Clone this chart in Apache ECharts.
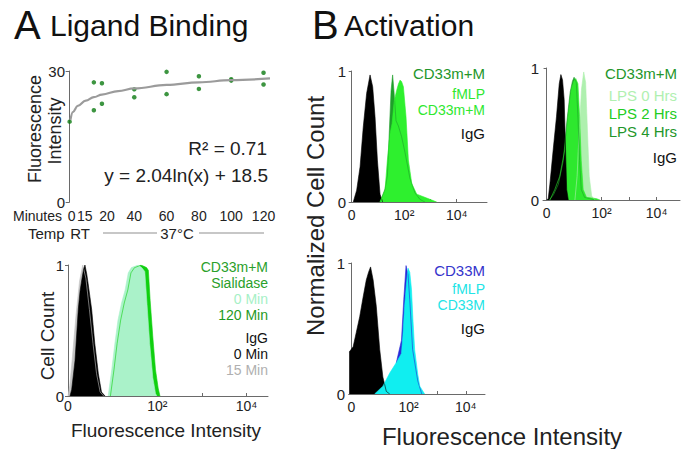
<!DOCTYPE html>
<html><head><meta charset="utf-8">
<script src="https://cdn.jsdelivr.net/npm/echarts@6/dist/echarts.min.js"></script>
<style>html,body{margin:0;padding:0;background:#fff}#c{width:690px;height:449px}</style>
</head><body><div id="c"></div>
<script>
// ---------- DATA ----------
// Panel A top: ligand binding time course
const scatterMinutes   = [0, 15, 15, 20, 20, 40, 40, 60, 60, 80, 80, 100, 100, 120, 120];
const scatterIntensity = [18.4, 27.4, 21.0, 27.2, 22.5, 25.8, 24.0, 29.8, 24.7, 28.8, 25.9, 28.1, 27.8, 29.6, 26.9];
const fitMinutes = [0.5, 2, 5, 10, 15, 20, 30, 40, 60, 80, 100, 124];
const fitValues  = [18.8, 20.6, 22.0, 23.2, 24.0, 24.6, 25.4, 26.0, 26.8, 27.4, 27.9, 28.3];
const minuteLabels = ['0', '15', '20', '40', '60', '80', '100', '120'];
const minuteTicks  = [0, 15, 20, 40, 60, 80, 100, 120];
// histogram x axis (decades); tick labels
const decadeTicks = [0, 1, 2, 3, 4];
const decadeLabels = {0: '0', 2: '10²', 4: '10⁴'};

// Panel A bottom: sialidase (x in decades, y normalized count)
const aIgG15 = [[0.0,0],[0.04,0.08],[0.1,0.3],[0.18,0.62],[0.26,0.88],[0.33,1.0],[0.4,0.9],[0.48,0.66],[0.56,0.4],[0.64,0.17],[0.72,0.03],[0.8,0]];
const aIgG0  = [[0.045,0],[0.083,0.05],[0.157,0.27],[0.23,0.66],[0.27,0.8],[0.31,0.89],[0.35,0.97],[0.38,1.0],[0.42,0.93],[0.45,0.86],[0.49,0.76],[0.53,0.66],[0.6,0.4],[0.68,0.17],[0.75,0.03],[0.83,0]];
const aSia120 = [[0.95,0],[1.03,0.2],[1.1,0.4],[1.18,0.58],[1.26,0.71],[1.34,0.81],[1.41,0.94],[1.49,0.98],[1.57,0.99],[1.63,1.0],[1.7,0.99],[1.76,0.98],[1.8,0.96],[1.84,0.73],[1.9,0.45],[1.96,0.2],[2.02,0.06],[2.06,0]];
const aSia0   = [[0.9,0],[0.98,0.2],[1.05,0.4],[1.12,0.58],[1.2,0.71],[1.28,0.81],[1.35,0.94],[1.42,0.98],[1.5,0.99],[1.57,1.0],[1.65,0.98],[1.72,0.95],[1.77,0.7],[1.83,0.4],[1.9,0.14],[1.96,0.02],[1.99,0]];

// Panel B1: fMLP
const b1IgG   = [[0.06,0],[0.19,0.09],[0.32,0.27],[0.44,0.57],[0.57,0.83],[0.7,0.97],[0.8,0.88],[0.89,0.65],[0.98,0.32],[1.08,0.06],[1.18,0]];
const b1CD33  = [[1.08,0],[1.27,0.1],[1.36,0.2],[1.43,0.52],[1.5,0.85],[1.56,0.97],[1.61,0.85],[1.69,0.62],[1.78,0.58],[1.9,0.5],[2.03,0.38],[2.22,0.18],[2.41,0.07],[2.6,0.02],[2.79,0]];
const b1fMLP  = [[1.08,0],[1.27,0.09],[1.36,0.32],[1.46,0.52],[1.54,0.6],[1.62,0.77],[1.71,0.85],[1.78,0.9],[1.84,0.93],[1.9,0.92],[1.97,0.88],[2.07,0.65],[2.16,0.32],[2.29,0.14],[2.48,0.06],[2.86,0.03],[3.24,0]];

// Panel B2: LPS
const b2LPS0 = [[1.03,0],[1.11,0.18],[1.18,0.5],[1.27,0.84],[1.35,0.97],[1.42,0.89],[1.49,0.5],[1.55,0.18],[1.64,0.03],[1.76,0]];
const b2LPS4 = [[0.1,0],[0.25,0.04],[0.43,0.12],[0.61,0.3],[0.74,0.6],[0.86,0.82],[0.94,0.9],[1.0,0.93],[1.08,0.89],[1.14,0.63],[1.2,0.3],[1.26,0.08],[1.38,0.02],[1.76,0]];
const b2LPS2 = [[0.12,0],[0.3,0.08],[0.48,0.18],[0.66,0.38],[0.78,0.63],[0.9,0.84],[0.99,0.9],[1.06,0.92],[1.14,0.88],[1.2,0.63],[1.26,0.3],[1.33,0.08],[1.45,0.02],[1.82,0.01],[1.94,0]];
const b2IgG  = [[0.0,0],[0.06,0.01],[0.12,0.12],[0.24,0.38],[0.36,0.63],[0.46,0.88],[0.52,0.95],[0.58,0.91],[0.64,0.76],[0.69,0.38],[0.73,0.08],[0.79,0]];

// Panel B3: CD33M
const b3IgG  = [[-0.077,0.32],[0.06,0.36],[0.17,0.47],[0.29,0.59],[0.41,0.74],[0.52,0.87],[0.6,0.93],[0.67,0.97],[0.76,0.87],[0.87,0.67],[0.99,0.34],[1.1,0.13],[1.22,0.02],[1.34,0]];
const b3CD33 = [[1.57,0.24],[1.75,0.41],[1.83,0.72],[1.91,0.98],[1.98,0.91],[2.04,0.72],[2.14,0.34],[2.32,0.1],[2.46,0]];
const b3fMLP = [[0.81,0],[1.1,0.06],[1.34,0.16],[1.57,0.24],[1.75,0.31],[1.8,0.45],[1.86,0.67],[1.92,0.83],[1.98,0.96],[2.04,0.93],[2.1,0.8],[2.15,0.57],[2.21,0.34],[2.32,0.15],[2.39,0.06],[2.56,0]];

// ---------- CHART ----------
const FONT = '"Liberation Sans", Arial, Helvetica, sans-serif';
const axisCol = '#6a6a6a';
const chart = echarts.init(document.getElementById('c'), null, {renderer: 'svg'});

const grids = [
  {left: 68, top: 71, width: 202, height: 131},
  {left: 68, top: 265, width: 200, height: 131},
  {left: 350, top: 71, width: 137, height: 131},
  {left: 543, top: 68, width: 137, height: 132},
  {left: 349, top: 263, width: 136, height: 131}
];

function histX(i, min, max, margin) {
  return {
    type: 'value', gridIndex: i, min: min, max: max,
    axisLine: {show: true, lineStyle: {color: axisCol, width: 1}},
    axisTick: {show: true, inside: true, length: 3, customValues: decadeTicks, lineStyle: {color: axisCol}},
    axisLabel: {customValues: [0, 2, 4], margin: margin, fontSize: 14, fontFamily: FONT, color: '#222',
      formatter: v => decadeLabels[Math.round(v)] || ''},
    splitLine: {show: false}
  };
}
function histY(i) {
  return {
    type: 'value', gridIndex: i, min: 0, max: 1, interval: 1,
    axisLine: {show: true, lineStyle: {color: axisCol, width: 1}},
    axisTick: {show: true, length: 3, lineStyle: {color: axisCol}},
    axisLabel: {margin: 4, fontSize: 15, fontFamily: FONT, color: '#222'},
    splitLine: {show: false}
  };
}
function area(data, color, xi) {
  return {
    type: 'line', xAxisIndex: xi, yAxisIndex: xi, data: data, showSymbol: false, silent: true,
    lineStyle: {width: 0.6, color: color}, itemStyle: {color: color},
    areaStyle: {color: color, opacity: 1}
  };
}
function txt(x, y, text, color, size, align, rot) {
  return {
    type: 'text', x: x, y: y, rotation: rot || 0, silent: true,
    style: {text: text, fill: color, fontSize: size, fontFamily: FONT,
            align: align || 'left', verticalAlign: 'middle'}
  };
}
function hline(x1, x2, y) {
  return {type: 'line', silent: true, shape: {x1: x1, y1: y, x2: x2, y2: y},
          style: {stroke: '#b5b5b5', lineWidth: 1.5}};
}
// stacked legend lines: each its own right-aligned text, spaced by 'step'
function stack(x, yFirst, lines, colors, step, size) {
  return lines.map((s, i) => txt(x, yFirst + i * step, s, colors[i], size, 'right'));
}

const minuteRich = {
  n: {fontSize: 14, fontFamily: FONT, color: '#222'},
  z: {fontSize: 14, fontFamily: FONT, color: '#222', padding: [0, 0, 0, 4]},
  l: {fontSize: 14, fontFamily: FONT, color: '#222', padding: [0, 18, 0, 0]},
  r: {fontSize: 14, fontFamily: FONT, color: '#222', padding: [0, 0, 0, 10]}
};

const option = {
  animation: false,
  backgroundColor: '#fff',
  grid: grids,
  xAxis: [
    {type: 'value', gridIndex: 0, min: -1, max: 124,
     axisLine: {show: false}, axisTick: {show: false}, splitLine: {show: false},
     axisLabel: {customValues: minuteTicks, margin: 7,
       formatter: v => {
         const s = minuteLabels[minuteTicks.indexOf(v)];
         if (v === 0) return '{z|' + s + '}';
         if (v === 15) return '{l|' + s + '}';
         if (v === 20) return '{r|' + s + '}';
         return '{n|' + s + '}';
       }, rich: minuteRich}},
    histX(1, 0, 4.48, 3),
    histX(2, -0.064, 5.155, 6),
    histX(3, -0.13, 4.85, 6),
    histX(4, -0.084, 4.67, 6)
  ],
  yAxis: [
    {type: 'value', gridIndex: 0, min: 0, max: 30, interval: 30,
     axisLine: {show: true, lineStyle: {color: axisCol}},
     axisTick: {show: true, length: 4, lineStyle: {color: axisCol}},
     axisLabel: {margin: 3, fontSize: 15, fontFamily: FONT, color: '#222'},
     splitLine: {show: false}},
    histY(1), histY(2), histY(3), histY(4)
  ],
  series: [
    {type: 'line', xAxisIndex: 0, yAxisIndex: 0, data: fitMinutes.map((m, i) => [m, fitValues[i]]),
     smooth: 0.4, smoothMonotone: 'x', showSymbol: false, silent: true,
     lineStyle: {color: '#9b9b9b', width: 2.2}},
    {type: 'scatter', xAxisIndex: 0, yAxisIndex: 0, data: scatterMinutes.map((m, i) => [m, scatterIntensity[i]]),
     symbolSize: 4.5, itemStyle: {color: '#0d7a12'}, silent: true},

    area(aIgG15, '#c4c4c4', 1),
    area(aIgG0, '#000000', 1),
    area(aSia120, '#10d010', 1),
    area(aSia0, '#aaf2c9', 1),

    area(b1IgG, '#000000', 2),
    area(b1CD33, '#1f9f2a', 2),
    area(b1fMLP, '#2ef02e', 2),

    area(b2LPS0, '#aef0ae', 3),
    area(b2LPS4, '#1f9f2a', 3),
    area(b2LPS2, '#2ee82e', 3),
    area(b2IgG, '#000000', 3),

    area(b3IgG, '#000000', 4),
    area(b3CD33, '#2a2ad8', 4),
    area(b3fMLP, '#10eef0', 4)
  ],
  graphic: [
    txt(14, 25, 'A', '#111', 40),
    txt(50, 25, 'Ligand Binding', '#111', 30),
    txt(312, 25, 'B', '#111', 40),
    txt(344, 25, 'Activation', '#111', 30),

    // panel A top
    txt(35, 129, 'Fluorescence', '#222', 18, 'center', Math.PI / 2),
    txt(55, 131, 'Intensity', '#222', 18, 'center', Math.PI / 2),
    txt(267, 148, 'R² = 0.71', '#222', 19, 'right'),
    txt(268, 175, 'y = 2.04ln(x) + 18.5', '#222', 19, 'right'),
    txt(62, 216, 'Minutes', '#222', 14, 'right'),
    txt(28, 233, 'Temp', '#222', 15, 'left'),
    txt(80, 233, 'RT', '#222', 15, 'center'),
    hline(103, 157, 233),
    txt(177, 233, '37°C', '#222', 15, 'center'),
    hline(199, 264, 233),

    // panel A bottom
    txt(47, 336, 'Cell Count', '#222', 19, 'center', Math.PI / 2),
    txt(166, 430, 'Fluorescence Intensity', '#222', 19, 'center'),
    ...stack(268, 267, ['CD33m+M', 'Sialidase', '0 Min', '120 Min'],
             ['#2aa02a', '#2aa02a', '#a6f0c6', '#1f9a1f'], 16, 14),
    ...stack(268, 338, ['IgG', '0 Min', '15 Min'], ['#111', '#111', '#b0b0b0'], 16, 14),

    // panel B labels
    txt(315, 216, 'Normalized Cell Count', '#222', 24, 'center', Math.PI / 2),
    txt(502, 436, 'Fluorescence Intensity', '#222', 24, 'center'),

    txt(485, 73, 'CD33m+M', '#23962a', 15, 'right'),
    ...stack(485, 94, ['fMLP', 'CD33m+M'], ['#2ee82e', '#2ee82e'], 16, 14),
    txt(485, 133, 'IgG', '#111', 15, 'right'),

    txt(677, 73, 'CD33m+M', '#23962a', 15, 'right'),
    ...stack(677, 95, ['LPS 0 Hrs', 'LPS 2 Hrs', 'LPS 4 Hrs'], ['#b0f0b0', '#22cc22', '#23962a'], 18, 15),
    txt(677, 157, 'IgG', '#111', 15, 'right'),

    txt(485, 270, 'CD33M', '#3434cc', 15, 'right'),
    ...stack(485, 289, ['fMLP', 'CD33M'], ['#22e4e6', '#22e4e6'], 16, 14),
    txt(485, 328, 'IgG', '#111', 15, 'right')
  ]
};
chart.setOption(option);
</script></body></html>
